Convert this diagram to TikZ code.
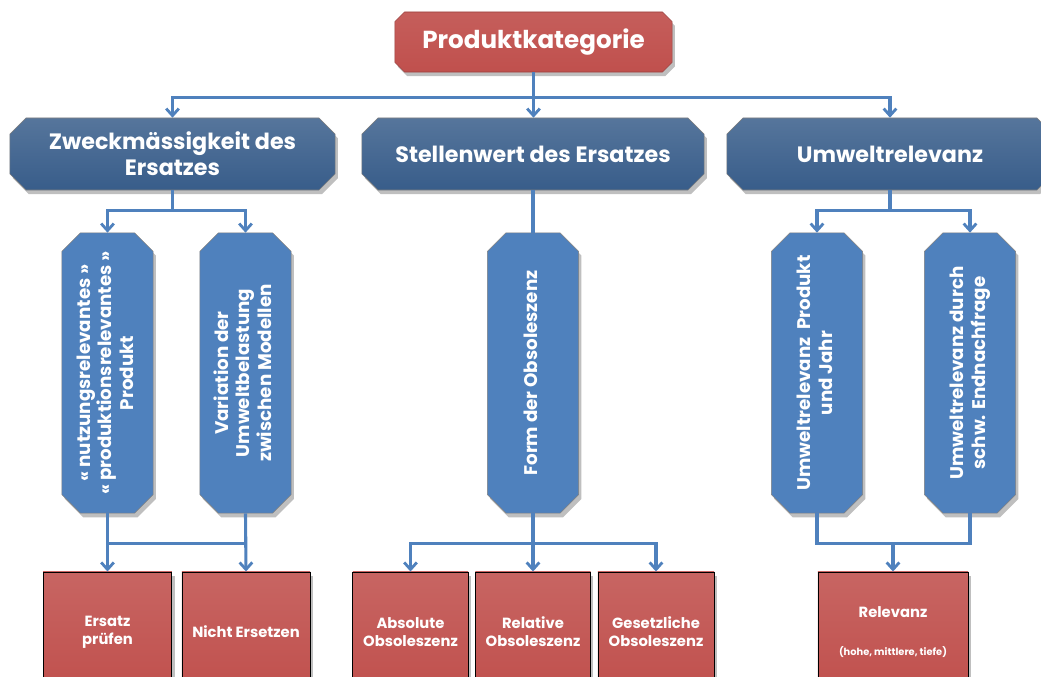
\documentclass[tikz,border=0pt]{standalone}
\usepackage{fontspec}
\setmainfont{Poppins}
\usetikzlibrary{shapes.misc,arrows.meta,shadows}
\definecolor{rootred}{HTML}{C0504D}
\definecolor{darkblue}{HTML}{385D8A}
\definecolor{midblue}{HTML}{4F81BD}
\definecolor{linegray}{HTML}{7F7F7F}
\tikzset{myshadow/.style={drop shadow={shadow xshift=2pt,shadow yshift=-3pt,opacity=.25,fill=black}},
rootbox/.style={chamfered rectangle,chamfered rectangle xsep=.12cm,chamfered rectangle ysep=.12cm,top color=rootred!92!white,bottom color=rootred,draw=rootred!80!black,thin,text=white,font=\bfseries\fontsize{17.5}{20}\selectfont,inner sep=0pt,minimum width=6.925cm,minimum height=1.5cm,myshadow},
catbox/.style={chamfered rectangle,chamfered rectangle xsep=.2cm,chamfered rectangle ysep=.2cm,top color=darkblue!85!white,bottom color=darkblue,draw=linegray,thin,text=white,align=center,font=\bfseries\fontsize{15.8}{18.5}\selectfont,inner sep=0pt,minimum height=1.8cm,myshadow},
critbox/.style={chamfered rectangle,chamfered rectangle xsep=.23cm,chamfered rectangle ysep=.23cm,fill=midblue,draw=linegray,thin,text=white,font=\bfseries\fontsize{13}{15.5}\selectfont,inner sep=0pt,minimum width=2.28cm,minimum height=7cm,myshadow},
resultbox/.style={rectangle,top color=rootred!88!white,bottom color=rootred,draw=black,semithick,text=white,align=center,font=\bfseries\fontsize{10.5}{13}\selectfont,inner sep=0pt,minimum height=3cm,myshadow},
myline/.style={midblue,line width=2.2pt},
myarrow/.style={myline,-{Straight Barb[length=5pt,width=9pt,line width=2pt]}}}
\newcommand{\vtext}[1]{\rotatebox{90}{\begin{tabular}{@{}c@{}}#1\end{tabular}}}

\begin{document}
\begin{tikzpicture}[x=0.025cm,y=-0.025cm]
\useasboundingbox (0,0) rectangle (1041,677);
% top
\node[rootbox] (root) at (533.5,42) {Produktkategorie};
\node[catbox,minimum width=8.125cm] (zweck) at (172.5,154) {Zweckmässigkeit des\\Ersatzes};
\node[catbox,minimum width=8.55cm] (stellen) at (533,154) {Stellenwert des Ersatzes};
\node[catbox,minimum width=8.15cm] (umwelt) at (890,154) {Umweltrelevanz};
% criteria
\node[critbox] (nutz) at (107.5,373) {\vtext{« nutzungsrelevantes »\\« produktionsrelevantes »\\Produkt}};
\node[critbox] (var) at (245.5,373) {\vtext{Variation der\\Umweltbelastung\\zwischen Modellen}};
\node[critbox] (form) at (533,373) {\vtext{Form der Obsoleszenz}};
\node[critbox] (uprod) at (817,373) {\vtext{Umweltrelevanz~ Produkt\\und Jahr}};
\node[critbox] (uend) at (970,373) {\vtext{Umweltrelevanz durch\\schw. Endnachfrage}};
% results
\node[resultbox,minimum width=3.22cm] (ersatz) at (107.5,632) {Ersatz\\prüfen};
\node[resultbox,minimum width=3.2cm] (nicht) at (246,632) {Nicht Ersetzen};
\node[resultbox,minimum width=2.88cm] (absol) at (410.5,632) {Absolute\\Obsoleszenz};
\node[resultbox,minimum width=2.88cm] (relat) at (533,632) {Relative\\Obsoleszenz};
\node[resultbox,minimum width=2.9cm] (gesetz) at (656,632) {Gesetzliche\\Obsoleszenz};
\node[resultbox,minimum width=3.75cm] (relev) at (893,632) {Relevanz\\[14pt]{\fontsize{7}{8}\selectfont (hohe, mittlere, tiefe)}};
% connectors
\draw[myline] (root.south) -- ++(0,25) coordinate (j0);
\draw[myarrow] (j0) -| (zweck.north);
\draw[myarrow] (j0) -- (j0 |- stellen.north);
\draw[myarrow] (j0) -| (umwelt.north);
\draw[myline] (zweck.south) -- ++(0,20) coordinate (ja);
\draw[myarrow] (ja) -| (nutz.north);
\draw[myarrow] (ja) -| (var.north);
\draw[myline] (stellen.south) -- (form.north);
\draw[myline] (umwelt.south) -- ++(0,20) coordinate (jd);
\draw[myarrow] (jd) -| (uprod.north);
\draw[myarrow] (jd) -| (uend.north);
\draw[myarrow] (nutz.south) -- (ersatz.north);
\draw[myarrow] (var.south) -- (nicht.north);
\path (nutz.south) ++(0,30) coordinate (jb);
\draw[myline] (jb) -- (jb -| var.south);
\draw[myline] (form.south) -- ++(0,30) coordinate (jc);
\draw[myarrow] (jc) -| (absol.north);
\draw[myarrow] (jc) -- (relat.north);
\draw[myarrow] (jc) -| (gesetz.north);
\draw[myline] (uprod.south) -- ++(0,30) coordinate (je) -| (uend.south);
\draw[myarrow] (je -| relev.north) -- (relev.north);
\end{tikzpicture}
\end{document}
